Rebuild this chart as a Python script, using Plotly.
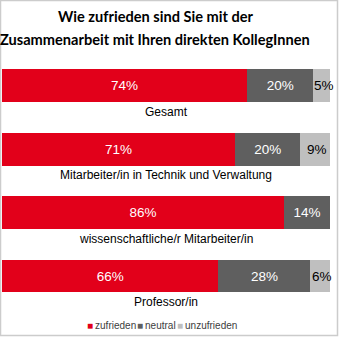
import plotly.graph_objects as go

categories = ["Gesamt", "Mitarbeiter/in in Technik und Verwaltung",
              "wissenschaftliche/r Mitarbeiter/in", "Professor/in"]
zufrieden = [74, 71, 86, 66]
neutral = [20, 20, 14, 28]
unzufrieden = [5, 9, 0, 6]
title_lines = ["Wie zufrieden sind Sie mit der",
               "Zusammenarbeit mit Ihren direkten KollegInnen"]

series = [("zufrieden", zufrieden, "#E2001A", "white"),
          ("neutral", neutral, "#5F5F5F", "white"),
          ("unzufrieden", unzufrieden, "#BFBFBF", "black")]

W, H = 340, 337
L, R, T, B = 2, 10, 55, 27
pw, ph = W - L - R, H - T - B


def px_x(px):
    return (px - L) / pw


def px_y(py):
    return (H - B - py) / ph


fig = go.Figure()
ypos = list(range(len(categories)))
for k, (name, vals, col, tcol) in enumerate(series):
    inside = k < 2
    fig.add_trace(go.Bar(
        name=name, y=ypos, x=vals, orientation="h", marker_color=col,
        marker_line_width=0, width=0.52,
        text=[f"{v}%" if (v and inside) else "" for v in vals],
        textposition="inside", insidetextanchor="middle", textangle=0,
        constraintext="none",
        textfont=dict(color=tcol, size=13.5, family="Liberation Sans"),
        cliponaxis=False, hoverinfo="skip", showlegend=False))

# labels for the thin last segment (they overflow the segment in the reference)
for i, (z, n, u) in enumerate(zip(zufrieden, neutral, unzufrieden)):
    if u:
        tot = z + n + u
        fig.add_annotation(text=f"{u}%", x=(z + n + u / 2) / tot * 100, xref="x",
                           y=i, yref="y", showarrow=False, xshift=2,
                           font=dict(size=13.5, family="Liberation Sans", color="black"))

for i, c in enumerate(categories):
    fig.add_annotation(text=c, x=0.5, xref="paper", y=i, yref="y", yshift=-26,
                       showarrow=False,
                       font=dict(size=12, family="Liberation Sans", color="black"))

# title as two centred lines
for txt, yy in zip(title_lines, [16, 39]):
    fig.add_annotation(text=f"<b>{txt}</b>", x=px_x(155), xref="paper", xanchor="center",
                       y=px_y(yy), yref="paper", yanchor="middle", showarrow=False,
                       font=dict(family="Lato", size=14.6, color="black"))

# legend built from annotations
leg_x = [85, 135, 175]
for (name, _, col, _), lx in zip(series, leg_x):
    fig.add_annotation(text=f"<span style='color:{col}'>■</span>\u2009{name}",
                       x=px_x(lx), xref="paper", xanchor="left",
                       y=px_y(325), yref="paper", yanchor="middle", showarrow=False,
                       font=dict(size=10, family="Liberation Sans", color="#404040"))

# outer frame
fig.add_shape(type="rect", xref="paper", yref="paper",
              x0=px_x(0.5), x1=px_x(337.5), y0=px_y(335.5), y1=px_y(0.5),
              line=dict(color="#CCCCCC", width=1.5), layer="above")

fig.update_layout(
    width=W, height=H, margin=dict(l=L, r=R, t=T, b=B),
    barmode="stack", barnorm="percent",
    paper_bgcolor="white", plot_bgcolor="rgba(0,0,0,0)",
    xaxis=dict(range=[0, 100], visible=False, fixedrange=True),
    yaxis=dict(range=[3.536, -0.484], visible=False, fixedrange=True),
    showlegend=False,
)

fig.write_html("out.html")
